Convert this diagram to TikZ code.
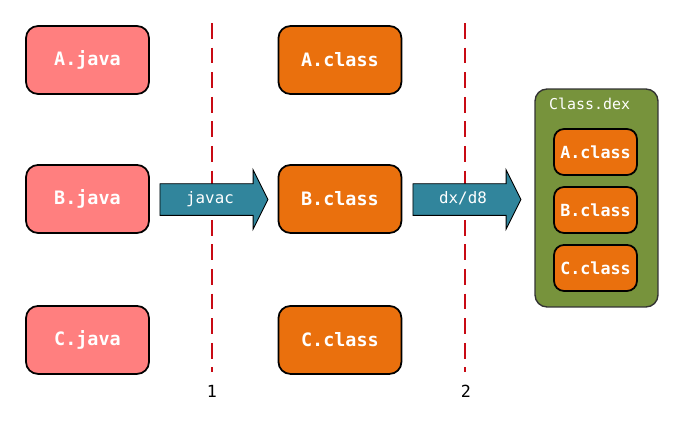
\documentclass[tikz,border=0pt]{standalone}
\usepackage{fontspec}
\setmonofont{DejaVu Sans Mono}
\usetikzlibrary{shapes.arrows}

\definecolor{javapink}{HTML}{FF7F7F}
\definecolor{classorange}{HTML}{EA700D}
\definecolor{arrowteal}{HTML}{31859C}
\definecolor{dexgreen}{HTML}{77933C}
\definecolor{stepred}{HTML}{C80A14}

\begin{document}
\begin{tikzpicture}[x=0.02cm, y=-0.02cm,
  srcbox/.style={draw=black, line width=1pt, rounded corners=0.24cm, fill=javapink,
    minimum width=2.46cm, minimum height=1.36cm, text=white,
    font=\fontsize{10.5}{12}\selectfont\ttfamily\bfseries},
  clsbox/.style={srcbox, fill=classorange},
  inbox/.style={clsbox, minimum width=1.66cm, minimum height=0.92cm, rounded corners=0.2cm,
    inner xsep=1pt, font=\fontsize{9.5}{11}\selectfont\ttfamily\bfseries},
  toolarrow/.style={single arrow, draw=black, line width=0.5pt, fill=arrowteal, text=white,
    minimum height=2.16cm, single arrow head extend=0.28cm, single arrow tip angle=127,
    inner ysep=4.5pt, text height=6.5pt, text depth=2pt,
    font=\fontsize{9}{10}\selectfont\ttfamily},
  stepline/.style={draw=stepred, line width=1.1pt, dash pattern=on 9pt off 5pt},
  steplabel/.style={font=\fontsize{9.5}{11}\selectfont\ttfamily}]
\useasboundingbox (0,0) rectangle (684,427);

% source files
\node[srcbox] (ajava) at (87.5,60) {A.java};
\node[srcbox, below of=ajava, node distance=2.78cm] (bjava) {B.java};
\node[srcbox, below of=bjava, node distance=2.82cm] (cjava) {C.java};

% class files
\node[clsbox, right of=ajava, node distance=5.05cm] (aclass) {A.class};
\node[clsbox, right of=bjava, node distance=5.05cm] (bclass) {B.class};
\node[clsbox, right of=cjava, node distance=5.05cm] (cclass) {C.class};

% step lines
\coordinate (onetop) at (212,23);
\coordinate (onebot) at (212,372);
\coordinate (twotop) at (465,23);
\coordinate (twobot) at (465,372);
\draw[stepline] (onetop) -- (onebot);
\draw[stepline] (twotop) -- (twobot);
\node[steplabel] (one) at (212,391) {1};
\node[steplabel] (two) at (466,391) {2};

% tools
\node[toolarrow] (javac) at (210,199.5) {javac};
\node[toolarrow] (dx) at (463,199.5) {dx/d8};

% dex file
\node[draw=black!80, line width=0.8pt, rounded corners=0.24cm, fill=dexgreen,
  minimum width=2.46cm, minimum height=4.36cm] (dex) at (596.5,198) {};
\node[anchor=west, text=white, font=\fontsize{8.5}{10}\selectfont\ttfamily] (dexname) at (543,104) {Class.dex};
\node[inbox] (adex) at (595.5,152) {A.class};
\node[inbox, below of=adex, node distance=1.16cm] (bdex) {B.class};
\node[inbox, below of=bdex, node distance=1.16cm] (cdex) {C.class};

\end{tikzpicture}
\end{document}
